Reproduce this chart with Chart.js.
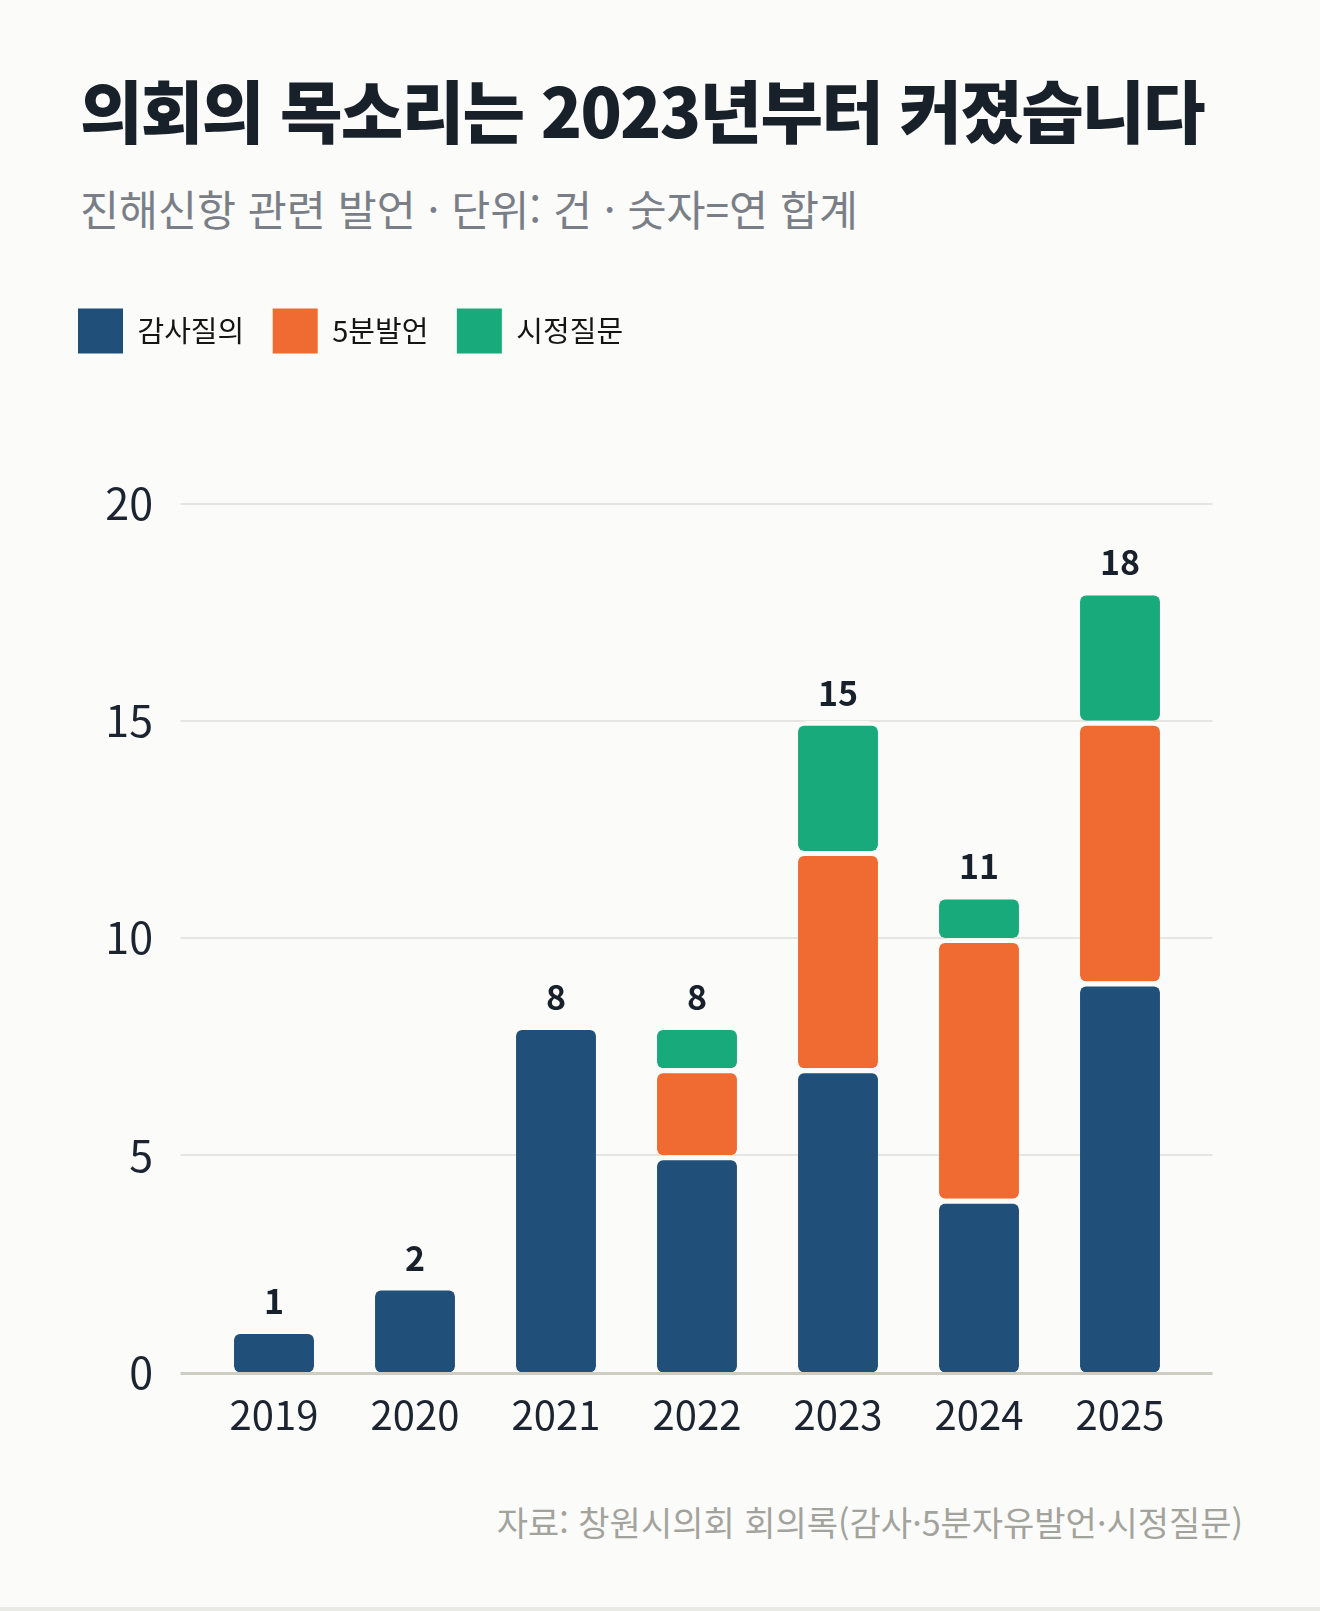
<!DOCTYPE html>
<html lang="ko">
<head>
<meta charset="utf-8">
<title>의회의 목소리는 2023년부터 커졌습니다</title>
<script src="https://cdn.jsdelivr.net/npm/chart.js@4.4.1/dist/chart.umd.min.js"></script>
<style>
  html, body { margin: 0; padding: 0; background: #e9e9e6; }
  body { font-family: 'Noto Sans CJK KR', sans-serif; }
  .card { position: relative; width: 1320px; height: 1607px; background: #fbfbf9; overflow: hidden; }
  h1 { position: absolute; left: 80px; top: 75px; margin: 0; font-size: 68px; line-height: 68px;
       font-weight: 900; letter-spacing: -1.7px; color: #18202a; white-space: nowrap; }
  .sub { position: absolute; left: 80px; top: 187px; margin: 0; font-size: 42.4px; line-height: 42px;
         color: #7a7f87; white-space: nowrap; }
  #chart { position: absolute; left: 0; top: 279.5px; }
  .src { position: absolute; right: 77px; top: 1505px; font-size: 34px; line-height: 34px;
         color: #a3a39e; white-space: nowrap; }
</style>
</head>
<body>
<div class="card">
  <h1>의회의 목소리는 2023년부터 커졌습니다</h1>
  <p class="sub">진해신항 관련 발언 · 단위: 건 · 숫자=연 합계</p>
  <canvas id="chart" width="1320" height="1190"></canvas>
  <div class="src">자료: 창원시의회 회의록(감사·5분자유발언·시정질문)</div>
</div>
<script>
// data
const years = ['2019', '2020', '2021', '2022', '2023', '2024', '2025'];
const audit = [1, 2, 8, 5, 7, 4, 9];      // 감사질의
const fiveMin = [0, 0, 0, 2, 5, 6, 6];    // 5분발언
const policy = [0, 0, 0, 1, 3, 1, 3];     // 시정질문
const seriesNames = ['감사질의', '5분발언', '시정질문'];
const seriesColors = ['#204f7a', '#ef6b31', '#18aa7a'];
const yTicks = [0, 5, 10, 15, 20];

const bg = '#fbfbf9';
const fontFamily = "'Noto Sans CJK KR', sans-serif";
Chart.defaults.font.family = fontFamily;

const totals = years.map((y, i) => audit[i] + fiveMin[i] + policy[i]);

// leave room between legend and plot
const legendSpace = {
  id: 'legendSpace',
  beforeInit(chart) {
    const fit = chart.legend.fit;
    chart.legend.fit = function() {
      fit.bind(chart.legend)();
      this.height += 140;
    };
  }
};

// horizontal grid lines, a bit wider than the plot area
const gridLines = {
  id: 'gridLines',
  beforeDatasetsDraw(chart) {
    const {ctx, chartArea, scales: {y}} = chart;
    ctx.save();
    ctx.strokeStyle = '#e5e5e2';
    ctx.lineWidth = 2;
    y.ticks.forEach(t => {
      if (t.value === 0) return;
      const py = Math.round(y.getPixelForValue(t.value));
      ctx.beginPath();
      ctx.moveTo(chartArea.left - 23, py);
      ctx.lineTo(chartArea.right + 22, py);
      ctx.stroke();
    });
    ctx.restore();
  },
  afterDatasetsDraw(chart) {
    const {ctx, chartArea, scales: {x, y}} = chart;
    ctx.save();
    // baseline
    const py0 = y.getPixelForValue(0) + 1;
    ctx.strokeStyle = '#cdcdc4';
    ctx.lineWidth = 3;
    ctx.beginPath();
    ctx.moveTo(chartArea.left - 23, py0);
    ctx.lineTo(chartArea.right + 22, py0);
    ctx.stroke();
    // totals above stacks
    ctx.fillStyle = '#18212b';
    ctx.font = 'bold 34px ' + fontFamily;
    ctx.textAlign = 'center';
    ctx.textBaseline = 'middle';
    totals.forEach((v, i) => {
      ctx.fillText(String(v), x.getPixelForValue(i), y.getPixelForValue(v) - 28);
    });
    ctx.restore();
  }
};

// white gap only on top of each segment
const radius = {topLeft: 11, topRight: 11, bottomLeft: 6, bottomRight: 6};
const border = {top: 5, right: 0, bottom: 0, left: 0};

new Chart(document.getElementById('chart'), {
  type: 'bar',
  data: {
    labels: years,
    datasets: [audit, fiveMin, policy].map((vals, k) => ({
      label: seriesNames[k],
      data: vals.map(v => v || null),
      backgroundColor: seriesColors[k],
      borderColor: bg,
      borderWidth: border,
      borderRadius: radius,
      borderSkipped: false,
      inflateAmount: 0,
      categoryPercentage: 1,
      barPercentage: 0.567
    }))
  },
  options: {
    responsive: false,
    animation: false,
    events: [],
    layout: { padding: { left: 49.5, right: 129.5, top: 0, bottom: 21.5 } },
    plugins: {
      legend: {
        position: 'top',
        align: 'start',
        labels: {
          boxWidth: 45,
          boxHeight: 45,
          padding: 28.5,
          color: '#151515',
          font: { size: 29 },
          generateLabels(chart) {
            return Chart.defaults.plugins.legend.labels.generateLabels(chart)
              .map(item => ({ ...item, lineWidth: 0, strokeStyle: item.fillStyle }));
          }
        }
      },
      title: { display: false },
      tooltip: { enabled: false }
    },
    scales: {
      x: {
        stacked: true,
        grid: { display: false },
        border: { display: false },
        ticks: { color: '#1b2430', font: { size: 40 }, padding: 10 }
      },
      y: {
        stacked: true,
        min: 0,
        max: 20,
        grid: { display: false },
        border: { display: false },
        afterBuildTicks(axis) { axis.ticks = yTicks.map(v => ({ value: v })); },
        afterFit(axis) { axis.width = 154; },
        ticks: { color: '#1b2430', font: { size: 43 }, padding: 42.5 }
      }
    }
  },
  plugins: [legendSpace, gridLines]
});
</script>
</body>
</html>
